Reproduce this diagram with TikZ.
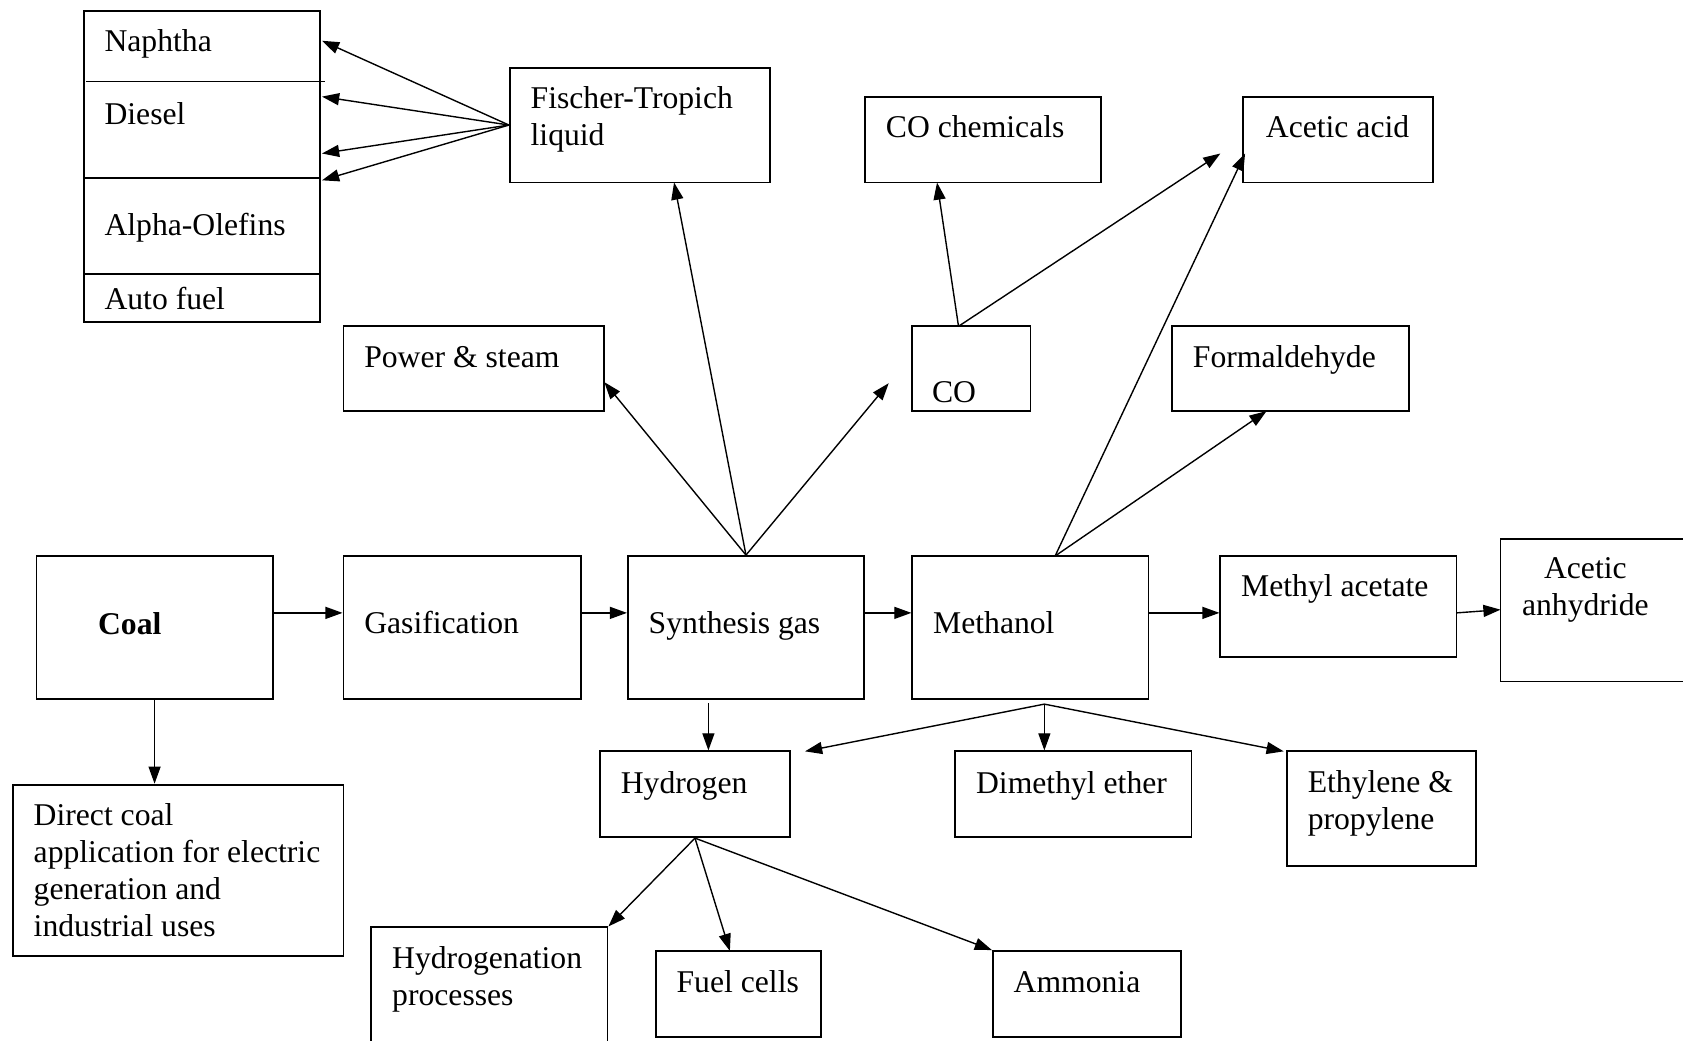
\documentclass[tikz,border=0pt]{standalone}
\usepackage{fontspec}
\setmainfont{Liberation Serif}
\usetikzlibrary{arrows.meta,fit}
\begin{document}
\begin{tikzpicture}[x=0.5pt,y=-0.5pt,
  box/.style={draw, line width=0.85pt, inner sep=0pt},
  lbl/.style={anchor=base west, inner sep=0pt, font=\fontsize{14.75}{17.15}\selectfont},
  mlbl/.style={anchor=north west, inner sep=0pt, align=left, font=\fontsize{14.75}{17.15}\selectfont},
  arr/.style={-{Triangle[length=8pt,width=5.6pt]}, line width=0.65pt}]
\useasboundingbox (0,0) rectangle (1568,969);

% ---- boxes ----
\node[box, fit={(78,10) (298,300)}] (stack) {};
\draw[line width=0.85pt] (80,76) -- (303,76);
\draw[line width=0.85pt] (78,166) -- (298,166);
\draw[line width=0.85pt] (78,255) -- (298,255);
\node[box, fit={(475,63) (717,170)}] (ft) {};
\node[box, fit={(806,90) (1026,170)}] (coc) {};
\node[box, fit={(1158,90) (1335,170)}] (aa) {};
\node[box, fit={(320,304) (563,383)}] (ps) {};
\node[box, fit={(850,304) (960,383)}] (co) {};
\node[box, fit={(1092,304) (1313,383)}] (form) {};
\node[box, fit={(34,518) (254,651)}] (coal) {};
\node[box, fit={(320,518) (541,651)}] (gas) {};
\node[box, fit={(585,518) (805,651)}] (syn) {};
\node[box, fit={(850,518) (1070,651)}] (meth) {};
\node[box, fit={(1137,518) (1357,612)}] (ma) {};
\node[box, fit={(1398,502) (1576,635)}] (anh) {};
\node[box, fit={(559,700) (736,780)}] (hyd) {};
\node[box, fit={(890,700) (1110,780)}] (dme) {};
\node[box, fit={(1199,700) (1375,807)}] (eth) {};
\node[box, fit={(12,731) (320,891)}] (dir) {};
\node[box, fit={(346,864) (566,978)}] (hp) {};
\node[box, fit={(611,886) (765,966)}] (fc) {};
\node[box, fit={(925,886) (1100,966)}] (amm) {};

% ---- texts ----
\node[lbl] (tnap) at (97,48) {Naphtha};
\node[lbl] (tdie) at (97,116) {Diesel};
\node[lbl] (talp) at (97,219) {Alpha-Olefins};
\node[lbl] (taut) at (97,288) {Auto fuel};
\node[mlbl] (tft) at (494,77) {\strut Fischer-Tropich\\liquid};
\node[lbl] (tcoc) at (825,128) {CO chemicals};
\node[lbl] (taa) at (1179,128) {Acetic acid};
\node[lbl] (tps) at (339,342) {Power \& steam};
\node[lbl] (tco) at (868,375) {CO};
\node[lbl] (tform) at (1111,342) {Formaldehyde};
\node[lbl, font=\fontsize{14.75}{17.15}\selectfont\bfseries] (tcoal) at (91,591) {Coal};
\node[lbl] (tgas) at (339,590) {Gasification};
\node[lbl] (tsyn) at (604,590) {Synthesis gas};
\node[lbl] (tmeth) at (869,590) {Methanol};
\node[lbl] (tma) at (1156,556) {Methyl acetate};
\node[mlbl, anchor=north, align=center] (tanh) at (1477,515) {\strut Acetic\\anhydride};
\node[lbl] (thyd) at (578,739) {Hydrogen};
\node[lbl] (tdme) at (909,739) {Dimethyl ether};
\node[mlbl] (teth) at (1218,714) {\strut Ethylene \&\\propylene};
\node[mlbl] (tdir) at (31,745) {\strut Direct coal\\application for electric\\generation and\\industrial uses};
\node[mlbl] (thp) at (365,878) {\strut Hydrogenation\\processes};
\node[lbl] (tfc) at (630,925) {Fuel cells};
\node[lbl] (tamm) at (944,925) {Ammonia};

% ---- helper coordinates ----
\coordinate (e1) at (300,38);
\coordinate (e2) at (300,90);
\coordinate (e3) at (300,143);
\coordinate (e4) at (300,168);
\coordinate (pse) at (563,356);
\coordinate (fts) at (628,170);
\coordinate (cofree) at (828,357);
\coordinate (cotop) at (893,304);
\coordinate (cocs) at (873,170);
\coordinate (aafree) at (1137,143);
\coordinate (aaw) at (1160,143);
\coordinate (mtop) at (983,518);
\coordinate (forms) at (1180,383);
\coordinate (mbot) at (973,656);
\coordinate (sbot) at (660,655);
\coordinate (hydne) at (750,700);
\coordinate (ethnw) at (1196,700);
\coordinate (fcn) at (680,886);
\coordinate (maE) at (1357,571);
\coordinate (anhW) at (1398,568);

% ---- connectors ----
\draw[arr] (ft.west) -- (e1);
\draw[arr] (ft.west) -- (e2);
\draw[arr] (ft.west) -- (e3);
\draw[arr] (ft.west) -- (e4);
\draw[arr] (syn.north) -- (pse);
\draw[arr] (syn.north) -- (fts);
\draw[arr] (syn.north) -- (cofree);
\draw[arr] (cotop) -- (cocs);
\draw[arr] (cotop) -- (aafree);
\draw[arr] (mtop) -- (aaw);
\draw[arr] (mtop) -- (forms);
\draw[arr] (coal.east |- 0,571) -- (gas.west |- 0,571);
\draw[arr] (gas.east |- 0,571) -- (syn.west |- 0,571);
\draw[arr] (syn.east |- 0,571) -- (meth.west |- 0,571);
\draw[arr] (meth.east |- 0,571) -- (ma.west |- 0,571);
\draw[arr] (maE) -- (anhW);
\draw[arr] (coal.south) -- (coal.south |- dir.north);
\draw[arr] (sbot) -- (sbot |- hyd.north);
\draw[arr] (mbot) -- (hydne);
\draw[arr] (mbot) -- (mbot |- dme.north);
\draw[arr] (mbot) -- (ethnw);
\draw[arr] (hyd.south) -- (hp.north east);
\draw[arr] (hyd.south) -- (fcn);
\draw[arr] (hyd.south) -- (amm.north west);
\end{tikzpicture}
\end{document}
